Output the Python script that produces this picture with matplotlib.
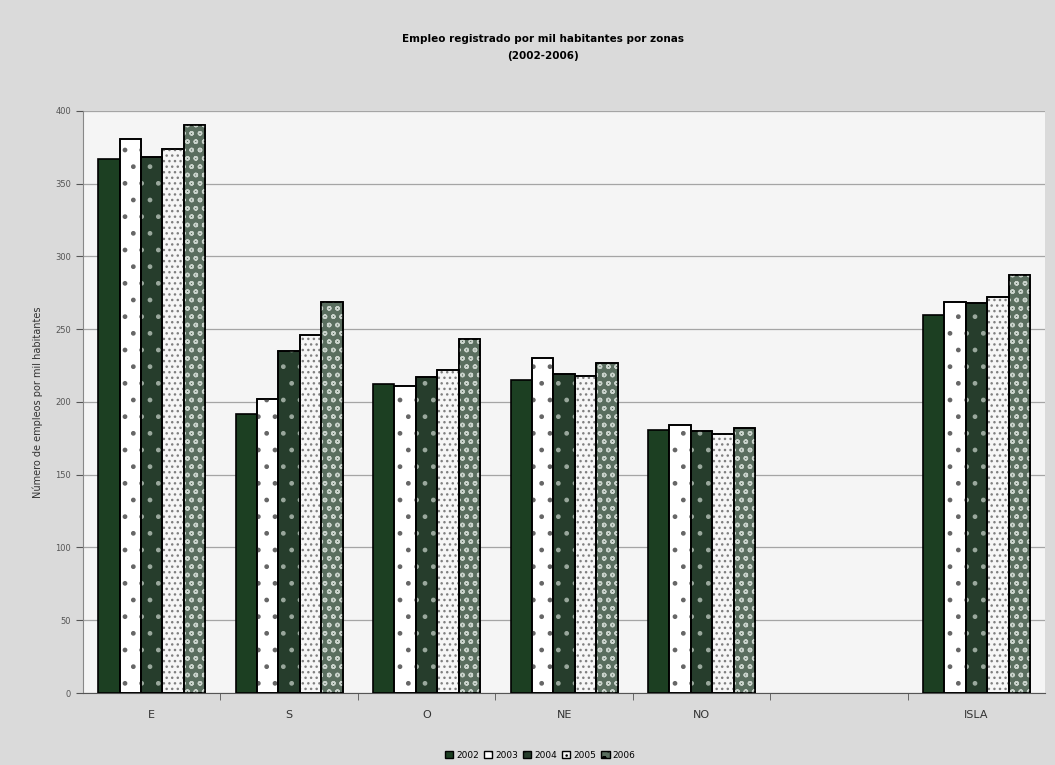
"""Empleo registrado por mil habitantes por zonas (2002-2006)"""

import numpy as np
import matplotlib.pyplot as plt
from matplotlib.patches import Patch

zones = ['E', 'S', 'O', 'NE', 'NO', '', 'ISLA']
years = ['2002', '2003', '2004', '2005', '2006']

# values per zone, one list per year (empty slot has no data)
v2002 = [367, 192, 212, 215, 181, np.nan, 260]
v2003 = [381, 202, 211, 230, 184, np.nan, 269]
v2004 = [368, 235, 217, 219, 180, np.nan, 268]
v2005 = [374, 246, 222, 218, 178, np.nan, 272]
v2006 = [390, 269, 243, 227, 182, np.nan, 287]
series = [v2002, v2003, v2004, v2005, v2006]

# face colour, hatch, hatch colour for each year
styles = [
    ('#1c3f22', None, None),
    ('#ffffff', '.', '#666666'),
    ('#263d2c', '.', '#9aa89d'),
    ('#f6f6f6', '...', '#808080'),
    ('#5a6e5f', 'oo', '#c9d2cb'),
]

fig = plt.figure(figsize=(10.55, 7.65), dpi=100, facecolor='#dadada')
ax = fig.add_axes([0.0787, 0.0941, 0.912, 0.761])
ax.set_facecolor('#f5f5f5')

x = np.arange(len(zones))
width = 0.156
for i, (vals, (fc, hatch, hc)) in enumerate(zip(series, styles)):
    pos = x + (i - 2) * width
    ax.bar(pos, vals, width, color=fc, edgecolor='black', linewidth=1.2,
           zorder=3)
    if hatch:
        ax.bar(pos, vals, width, color='none', edgecolor=hc, hatch=hatch,
               linewidth=0, zorder=4)
        ax.bar(pos, vals, width, color='none', edgecolor='black',
               linewidth=1.2, zorder=5)

ax.set_ylim(0, 400)
ax.set_xlim(-0.5, len(zones) - 0.5)
ax.set_yticks(np.arange(0, 401, 50))
ax.tick_params(axis='y', labelsize=6, colors='#555555', length=5)
ax.yaxis.grid(True, color='#a5a5a5', linewidth=0.9, zorder=0)

ax.set_xticks(x)
ax.set_xticklabels(zones, fontsize=8, color='#333333')
ax.tick_params(axis='x', length=0, pad=12)
ax.set_xticks(np.arange(0.5, len(zones) - 0.5), minor=True)
ax.tick_params(axis='x', which='minor', length=5, color='#555555')

for side in ['top', 'right']:
    ax.spines[side].set_visible(False)
ax.spines['left'].set_color('#888888')
ax.spines['bottom'].set_color('#555555')

ax.set_ylabel('Número de empleos por mil habitantes', fontsize=7,
              color='#333333', labelpad=9)
fig.text(0.515, 0.938, 'Empleo registrado por mil habitantes por zonas\n(2002-2006)',
         ha='center', va='center', fontsize=7.5, fontweight='bold',
         linespacing=1.8)

handles = [Patch(facecolor=fc, edgecolor='black', hatch=hatch, label=y)
           for y, (fc, hatch, hc) in zip(years, styles)]
fig.legend(handles=handles, loc='center', bbox_to_anchor=(0.512, 0.013),
           ncol=5, fontsize=6.5, frameon=False, handlelength=0.9,
           handleheight=0.9, handletextpad=0.3, columnspacing=0.6)

plt.savefig('out.png', dpi=100, facecolor=fig.get_facecolor())
